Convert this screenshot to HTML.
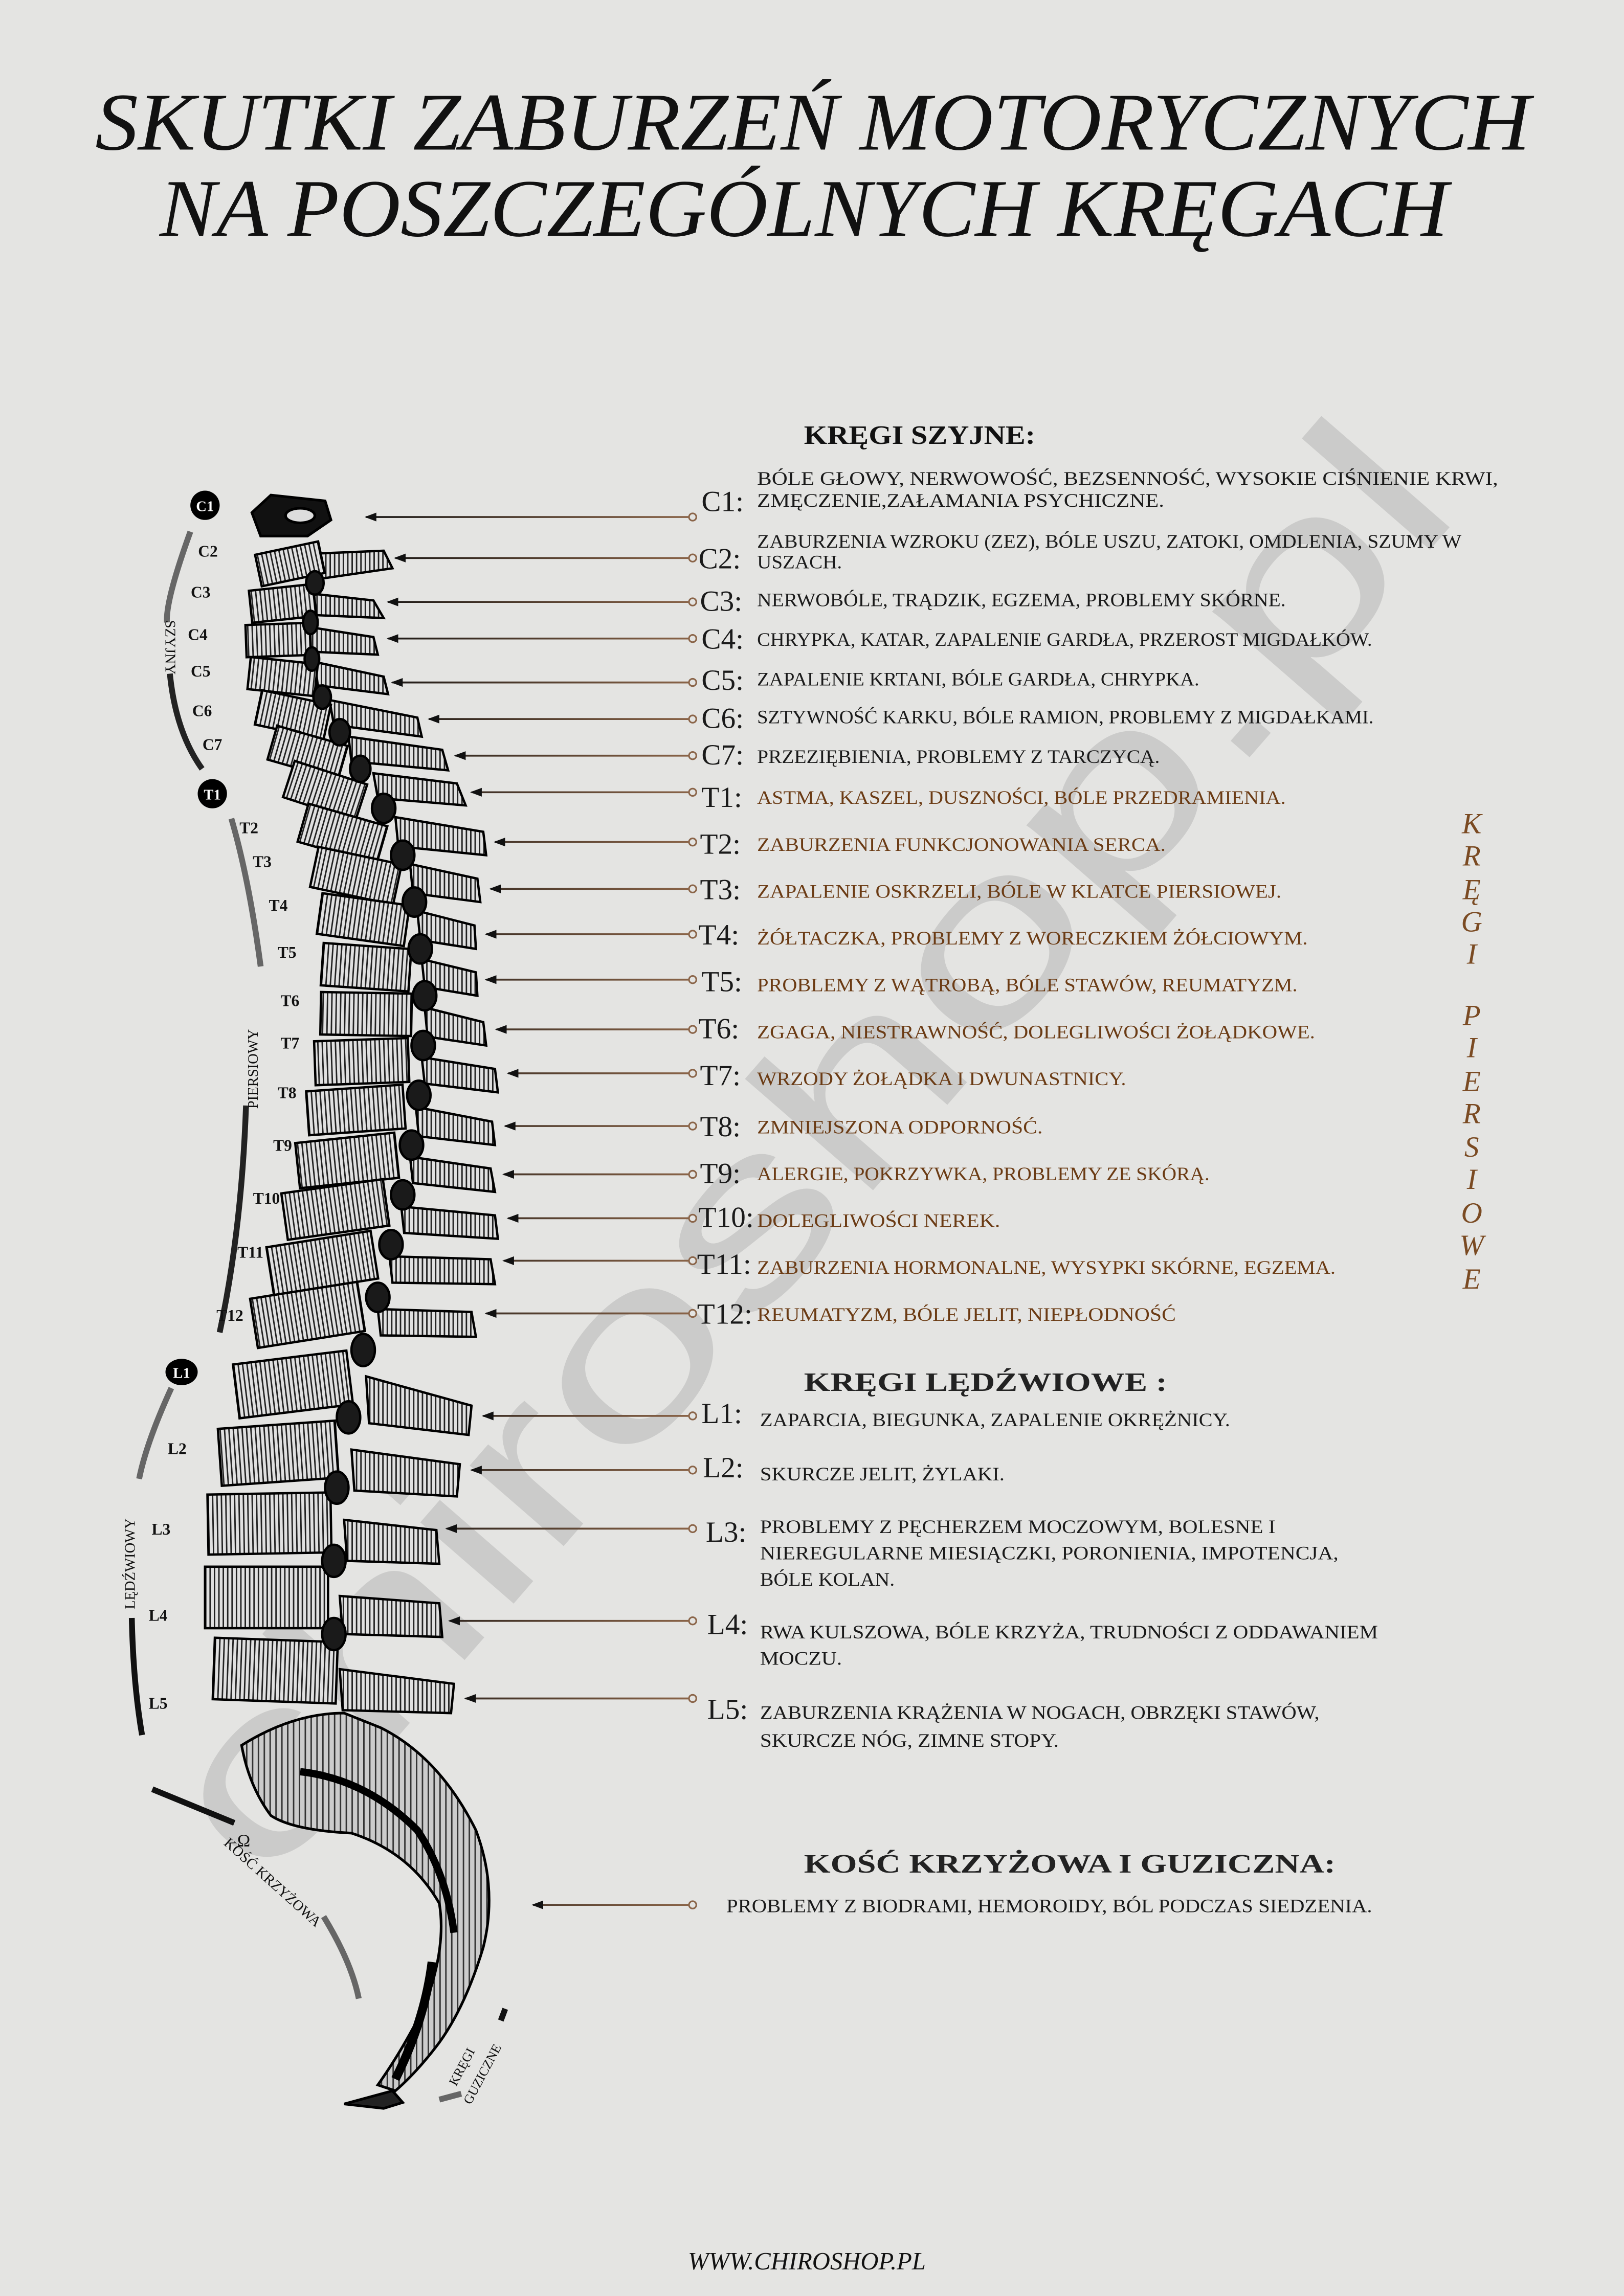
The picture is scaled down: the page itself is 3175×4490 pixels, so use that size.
<!DOCTYPE html>
<html><head><meta charset="utf-8"><style>
html,body{margin:0;padding:0;background:#e4e4e2}
svg{display:block}
.t{font-family:"Liberation Serif",serif;font-size:13px;fill:#1a1a1a}
.b{fill:#6b3b14}
.lb{font-family:"Liberation Serif",serif;font-size:20px;fill:#1a1a1a}
.sm{font-family:"Liberation Serif",serif;font-size:11px;font-weight:bold;fill:#111}
</style></head><body>
<svg width="3175" height="4490" viewBox="0 0 1109 1568" xmlns="http://www.w3.org/2000/svg">
<defs>
<pattern id="h" width="3" height="3" patternUnits="userSpaceOnUse"><rect width="3" height="3" fill="#e0e0e0"/><rect width="1" height="3" fill="#222"/></pattern>
<pattern id="h2" width="4" height="4" patternUnits="userSpaceOnUse"><rect width="4" height="4" fill="#ccc"/><rect width="1" height="4" fill="#333"/></pattern>
<linearGradient id="g" gradientUnits="userSpaceOnUse" x1="240" y1="0" x2="472" y2="0"><stop offset="0" stop-color="#111"/><stop offset="1" stop-color="#8a6448"/></linearGradient>
<marker id="a" markerWidth="8" markerHeight="6" refX="1" refY="3" orient="auto" markerUnits="userSpaceOnUse"><path d="M8,0 L0,3 L8,6 Z" fill="#111"/></marker>
</defs>
<rect width="1109" height="1568" fill="#e4e4e2"/>
<!-- watermark -->
<text x="590" y="820" transform="rotate(-49 590 820)" text-anchor="middle" font-family="Liberation Sans,sans-serif" font-size="160" fill="#000" opacity="0.1" textLength="1250" lengthAdjust="spacingAndGlyphs">chiroshop.pl</text>
<!-- title -->
<text x="555" y="102" text-anchor="middle" font-family="Liberation Serif,serif" font-style="italic" font-size="56" fill="#111" textLength="980" lengthAdjust="spacingAndGlyphs">SKUTKI ZABURZEŃ MOTORYCZNYCH</text>
<text x="549" y="161" text-anchor="middle" font-family="Liberation Serif,serif" font-style="italic" font-size="56" fill="#111" textLength="880" lengthAdjust="spacingAndGlyphs">NA POSZCZEGÓLNYCH KRĘGACH</text>
<!-- headers -->
<text x="549" y="303" font-family="Liberation Serif,serif" font-weight="bold" font-size="18" fill="#111" textLength="158" lengthAdjust="spacingAndGlyphs">KRĘGI  SZYJNE:</text>
<text x="549" y="950" font-family="Liberation Serif,serif" font-weight="bold" font-size="18" fill="#222" textLength="248" lengthAdjust="spacingAndGlyphs">KRĘGI LĘDŹWIOWE :</text>
<text x="549" y="1279" font-family="Liberation Serif,serif" font-weight="bold" font-size="18" fill="#222" textLength="363" lengthAdjust="spacingAndGlyphs">KOŚĆ KRZYŻOWA I GUZICZNA:</text>
<!-- connectors -->
<g stroke="url(#g)" stroke-width="1.3" fill="none">
<path d="M250,353 H470" marker-start="url(#a)"/>
<path d="M270,381 H470" marker-start="url(#a)"/>
<path d="M265,411 H470" marker-start="url(#a)"/>
<path d="M265,436 H470" marker-start="url(#a)"/>
<path d="M268,466 H470" marker-start="url(#a)"/>
<path d="M293,491 H470" marker-start="url(#a)"/>
<path d="M311,516 H470" marker-start="url(#a)"/>
<path d="M322,541 H470" marker-start="url(#a)"/>
<path d="M338,575 H470" marker-start="url(#a)"/>
<path d="M335,607 H470" marker-start="url(#a)"/>
<path d="M332,638 H470" marker-start="url(#a)"/>
<path d="M332,669 H470" marker-start="url(#a)"/>
<path d="M339,703 H470" marker-start="url(#a)"/>
<path d="M347,733 H470" marker-start="url(#a)"/>
<path d="M345,769 H470" marker-start="url(#a)"/>
<path d="M344,802 H470" marker-start="url(#a)"/>
<path d="M347,832 H470" marker-start="url(#a)"/>
<path d="M344,861 H470" marker-start="url(#a)"/>
<path d="M332,897 H470" marker-start="url(#a)"/>
<path d="M330,967 H470" marker-start="url(#a)"/>
<path d="M322,1004 H470" marker-start="url(#a)"/>
<path d="M305,1044 H470" marker-start="url(#a)"/>
<path d="M307,1107 H470" marker-start="url(#a)"/>
<path d="M318,1160 H470" marker-start="url(#a)"/>
<path d="M364,1301 H470" marker-start="url(#a)"/>
</g>
<g fill="#e4e4e2" stroke="#8a6448" stroke-width="1.1">
<circle cx="473" cy="353" r="2.5"/><circle cx="473" cy="381" r="2.5"/><circle cx="473" cy="411" r="2.5"/><circle cx="473" cy="436" r="2.5"/><circle cx="473" cy="466" r="2.5"/><circle cx="473" cy="491" r="2.5"/><circle cx="473" cy="516" r="2.5"/><circle cx="473" cy="541" r="2.5"/><circle cx="473" cy="575" r="2.5"/><circle cx="473" cy="607" r="2.5"/><circle cx="473" cy="638" r="2.5"/><circle cx="473" cy="669" r="2.5"/><circle cx="473" cy="703" r="2.5"/><circle cx="473" cy="733" r="2.5"/><circle cx="473" cy="769" r="2.5"/><circle cx="473" cy="802" r="2.5"/><circle cx="473" cy="832" r="2.5"/><circle cx="473" cy="861" r="2.5"/><circle cx="473" cy="897" r="2.5"/><circle cx="473" cy="967" r="2.5"/><circle cx="473" cy="1004" r="2.5"/><circle cx="473" cy="1044" r="2.5"/><circle cx="473" cy="1107" r="2.5"/><circle cx="473" cy="1160" r="2.5"/><circle cx="473" cy="1301" r="2.5"/>
</g>
<!-- labels -->
<g class="lb">
<text x="479" y="349">C1:</text><text x="477" y="388">C2:</text><text x="478" y="417">C3:</text><text x="479" y="443">C4:</text><text x="479" y="471">C5:</text><text x="479" y="497">C6:</text><text x="479" y="522">C7:</text>
</g>
<g class="lb b">
<text x="479" y="551">T1:</text><text x="478" y="583">T2:</text><text x="478" y="614">T3:</text><text x="477" y="645">T4:</text><text x="479" y="677">T5:</text><text x="477" y="709">T6:</text><text x="478" y="741">T7:</text><text x="478" y="776">T8:</text><text x="478" y="808">T9:</text><text x="477" y="838">T10:</text><text x="476" y="870">T11:</text><text x="476" y="904">T12:</text>
</g>
<g class="lb"><text x="479" y="972">L1:</text><text x="480" y="1009">L2:</text><text x="482" y="1053">L3:</text><text x="483" y="1116">L4:</text><text x="483" y="1174">L5:</text></g>
<!-- descriptions -->
<g class="t">
<text x="517" y="331" textLength="506" lengthAdjust="spacingAndGlyphs">BÓLE GŁOWY, NERWOWOŚĆ, BEZSENNOŚĆ, WYSOKIE CIŚNIENIE KRWI,</text>
<text x="517" y="346" textLength="278" lengthAdjust="spacingAndGlyphs">ZMĘCZENIE,ZAŁAMANIA PSYCHICZNE.</text>
<text x="517" y="374" textLength="481" lengthAdjust="spacingAndGlyphs">ZABURZENIA WZROKU (ZEZ), BÓLE USZU, ZATOKI, OMDLENIA, SZUMY W</text>
<text x="517" y="388" textLength="58" lengthAdjust="spacingAndGlyphs">USZACH.</text>
<text x="517" y="414" textLength="361" lengthAdjust="spacingAndGlyphs">NERWOBÓLE, TRĄDZIK, EGZEMA, PROBLEMY SKÓRNE.</text>
<text x="517" y="441" textLength="420" lengthAdjust="spacingAndGlyphs">CHRYPKA, KATAR, ZAPALENIE GARDŁA, PRZEROST MIGDAŁKÓW.</text>
<text x="517" y="468" textLength="302" lengthAdjust="spacingAndGlyphs">ZAPALENIE KRTANI, BÓLE GARDŁA, CHRYPKA.</text>
<text x="517" y="494" textLength="421" lengthAdjust="spacingAndGlyphs">SZTYWNOŚĆ KARKU, BÓLE RAMION, PROBLEMY Z MIGDAŁKAMI.</text>
<text x="517" y="521" textLength="275" lengthAdjust="spacingAndGlyphs">PRZEZIĘBIENIA, PROBLEMY Z TARCZYCĄ.</text>
</g>
<g class="t b">
<text x="517" y="549" textLength="361" lengthAdjust="spacingAndGlyphs">ASTMA, KASZEL, DUSZNOŚCI, BÓLE PRZEDRAMIENIA.</text>
<text x="517" y="581" textLength="279" lengthAdjust="spacingAndGlyphs">ZABURZENIA FUNKCJONOWANIA SERCA.</text>
<text x="517" y="613" textLength="358" lengthAdjust="spacingAndGlyphs">ZAPALENIE OSKRZELI, BÓLE W KLATCE PIERSIOWEJ.</text>
<text x="517" y="645" textLength="376" lengthAdjust="spacingAndGlyphs">ŻÓŁTACZKA, PROBLEMY Z WORECZKIEM ŻÓŁCIOWYM.</text>
<text x="517" y="677" textLength="369" lengthAdjust="spacingAndGlyphs">PROBLEMY Z WĄTROBĄ, BÓLE STAWÓW, REUMATYZM.</text>
<text x="517" y="709" textLength="381" lengthAdjust="spacingAndGlyphs">ZGAGA, NIESTRAWNOŚĆ, DOLEGLIWOŚCI ŻOŁĄDKOWE.</text>
<text x="517" y="741" textLength="252" lengthAdjust="spacingAndGlyphs">WRZODY ŻOŁĄDKA I DWUNASTNICY.</text>
<text x="517" y="774" textLength="195" lengthAdjust="spacingAndGlyphs">ZMNIEJSZONA ODPORNOŚĆ.</text>
<text x="517" y="806" textLength="309" lengthAdjust="spacingAndGlyphs">ALERGIE, POKRZYWKA, PROBLEMY ZE SKÓRĄ.</text>
<text x="517" y="838" textLength="166" lengthAdjust="spacingAndGlyphs">DOLEGLIWOŚCI NEREK.</text>
<text x="517" y="870" textLength="395" lengthAdjust="spacingAndGlyphs">ZABURZENIA HORMONALNE, WYSYPKI SKÓRNE, EGZEMA.</text>
<text x="517" y="902" textLength="286" lengthAdjust="spacingAndGlyphs">REUMATYZM, BÓLE JELIT, NIEPŁODNOŚĆ</text>
</g>
<g class="t">
<text x="519" y="974" textLength="321" lengthAdjust="spacingAndGlyphs">ZAPARCIA, BIEGUNKA, ZAPALENIE OKRĘŻNICY.</text>
<text x="519" y="1011" textLength="167" lengthAdjust="spacingAndGlyphs">SKURCZE JELIT, ŻYLAKI.</text>
<text x="519" y="1047" textLength="352" lengthAdjust="spacingAndGlyphs">PROBLEMY Z PĘCHERZEM MOCZOWYM, BOLESNE I</text>
<text x="519" y="1065" textLength="395" lengthAdjust="spacingAndGlyphs">NIEREGULARNE MIESIĄCZKI, PORONIENIA, IMPOTENCJA,</text>
<text x="519" y="1083" textLength="92" lengthAdjust="spacingAndGlyphs">BÓLE KOLAN.</text>
<text x="519" y="1119" textLength="422" lengthAdjust="spacingAndGlyphs">RWA KULSZOWA, BÓLE KRZYŻA, TRUDNOŚCI Z ODDAWANIEM</text>
<text x="519" y="1137" textLength="56" lengthAdjust="spacingAndGlyphs">MOCZU.</text>
<text x="519" y="1174" textLength="382" lengthAdjust="spacingAndGlyphs">ZABURZENIA KRĄŻENIA W NOGACH, OBRZĘKI STAWÓW,</text>
<text x="519" y="1193" textLength="204" lengthAdjust="spacingAndGlyphs">SKURCZE NÓG, ZIMNE STOPY.</text>
<text x="496" y="1306" textLength="441" lengthAdjust="spacingAndGlyphs">PROBLEMY Z BIODRAMI, HEMOROIDY, BÓL PODCZAS SIEDZENIA.</text>
</g>
<!-- vertical brown text -->
<g font-family="Liberation Serif,serif" font-style="italic" font-size="20" fill="#7a4a22" text-anchor="middle">
<text x="1005" y="569">K</text><text x="1005" y="591">R</text><text x="1005" y="614">Ę</text><text x="1005" y="636">G</text><text x="1005" y="658">I</text>
<text x="1005" y="700">P</text><text x="1005" y="722">I</text><text x="1005" y="745">E</text><text x="1005" y="767">R</text><text x="1005" y="790">S</text><text x="1005" y="812">I</text><text x="1005" y="835">O</text><text x="1005" y="857">W</text><text x="1005" y="880">E</text>
</g>
<!-- left arcs and labels -->
<g fill="none" stroke-width="4">
<path d="M130,363 Q113,410 114,425" stroke="#666"/>
<path d="M116,460 Q120,500 138,525" stroke="#222"/>
<path d="M158,559 Q170,600 178,660" stroke="#666"/>
<path d="M168,755 Q165,840 150,910" stroke="#222"/>
<path d="M117,948 Q100,985 95,1010" stroke="#666"/>
<path d="M90,1105 Q91,1150 97,1185" stroke="#111"/>
<path d="M104,1222 L160,1245" stroke="#111"/>
<path d="M221,1309 Q240,1340 245,1365" stroke="#666"/>
<path d="M345,1372 L342,1380" stroke="#111"/>
<path d="M315,1430 L300,1434" stroke="#666"/>
</g>
<circle cx="140" cy="345" r="10" fill="#000"/><text x="140" y="349" text-anchor="middle" font-family="Liberation Serif,serif" font-weight="bold" font-size="10" fill="#fff">C1</text>
<circle cx="145" cy="542" r="10" fill="#000"/><text x="145" y="546" text-anchor="middle" font-family="Liberation Serif,serif" font-weight="bold" font-size="10" fill="#fff">T1</text>
<ellipse cx="124" cy="937" rx="11" ry="9" fill="#000"/><text x="124" y="941" text-anchor="middle" font-family="Liberation Serif,serif" font-weight="bold" font-size="10" fill="#fff">L1</text>
<g class="sm" text-anchor="middle">
<text x="142" y="380">C2</text><text x="137" y="408">C3</text><text x="135" y="437">C4</text><text x="137" y="462">C5</text><text x="138" y="489">C6</text><text x="145" y="512">C7</text>
<text x="170" y="569">T2</text><text x="179" y="592">T3</text><text x="190" y="622">T4</text><text x="196" y="654">T5</text><text x="198" y="687">T6</text><text x="198" y="716">T7</text><text x="196" y="750">T8</text><text x="193" y="786">T9</text><text x="182" y="822">T10</text><text x="171" y="859">T11</text><text x="157" y="902">T12</text>
<text x="121" y="993">L2</text><text x="110" y="1048">L3</text><text x="108" y="1107">L4</text><text x="108" y="1167">L5</text>
</g>
<text transform="translate(113,442) rotate(90)" text-anchor="middle" font-family="Liberation Serif,serif" font-size="10" fill="#111">SZYJNY</text>
<text transform="translate(176,730) rotate(-90)" text-anchor="middle" font-family="Liberation Serif,serif" font-size="10" fill="#111">PIERSIOWY</text>
<text transform="translate(92,1068) rotate(-90)" text-anchor="middle" font-family="Liberation Serif,serif" font-size="10" fill="#111">LĘDŹWIOWY</text>
<text transform="translate(184,1288) rotate(42)" text-anchor="middle" font-family="Liberation Serif,serif" font-size="10" fill="#111">KOŚĆ KRZYŻOWA</text>
<text transform="translate(318,1413) rotate(-62)" text-anchor="middle" font-family="Liberation Serif,serif" font-size="9" fill="#111">KRĘGI</text>
<text transform="translate(332,1418) rotate(-62)" text-anchor="middle" font-family="Liberation Serif,serif" font-size="9" fill="#111">GUZICZNE</text>
<text x="162" y="1261" font-family="Liberation Serif,serif" font-size="12" fill="#111">Ω</text>
<!-- spine -->
<g stroke="#000" stroke-width="1.8">
<path d="M165,1192 Q200,1170 235,1170 L260,1180 Q300,1200 325,1250 Q340,1290 330,1330 Q318,1370 300,1395 Q285,1415 270,1428 L258,1424 Q275,1400 290,1370 Q305,1330 300,1300 Q280,1265 240,1252 Q200,1250 185,1240 Q170,1220 165,1192 Z" fill="url(#h2)"/>
<path d="M205,1210 Q250,1215 285,1250 Q305,1280 310,1320" fill="none" stroke-width="5"/>
<path d="M295,1340 Q290,1380 270,1420" fill="none" stroke-width="6"/>
<path d="M235,1437 L268,1428 L275,1436 L262,1440 Z" fill="#222"/>
<path d="M172,350 L185,338 L222,342 L226,355 L210,366 L178,366 Z" fill="#111"/>
<ellipse cx="205" cy="352" rx="10" ry="5" fill="#ddd"/>
</g>
<g stroke="#000" stroke-width="1.6">
<g fill="url(#h)">
<path d="M215,378 L262,376 L268,388 L220,395 Z"/>
<path d="M210,405 L255,410 L262,422 L215,420 Z"/>
<path d="M210,428 L255,435 L258,447 L212,445 Z"/>
<path d="M215,452 L262,462 L265,474 L217,468 Z"/>
<path d="M225,478 L285,490 L288,503 L228,495 Z"/>
<path d="M238,503 L302,512 L306,526 L240,520 Z"/>
<path d="M255,528 L312,535 L318,550 L258,545 Z"/>
<path d="M270,558 L330,568 L332,584 L272,578 Z"/>
<path d="M280,590 L326,600 L328,616 L282,610 Z"/>
<path d="M285,622 L324,632 L325,648 L287,642 Z"/>
<path d="M288,655 L325,664 L326,680 L290,674 Z"/>
<path d="M290,688 L330,698 L332,714 L292,708 Z"/>
<path d="M288,722 L338,730 L340,746 L290,740 Z"/>
<path d="M284,756 L336,766 L338,782 L286,776 Z"/>
<path d="M280,790 L335,798 L338,814 L282,808 Z"/>
<path d="M274,824 L338,830 L340,846 L276,842 Z"/>
<path d="M266,858 L335,860 L338,877 L268,876 Z"/>
<path d="M258,894 L322,896 L325,913 L260,912 Z"/>
<path d="M250,940 L322,960 L320,980 L252,972 Z"/>
<path d="M240,990 L314,1000 L312,1022 L242,1018 Z"/>
<path d="M235,1038 L298,1045 L300,1068 L237,1066 Z"/>
<path d="M232,1090 L300,1095 L302,1118 L234,1116 Z"/>
<path d="M232,1140 L310,1150 L308,1170 L234,1168 Z"/>
</g>
<g fill="url(#h)">
<rect x="-22" y="-11" width="44" height="22" transform="translate(198,385) rotate(-12)"/>
<rect x="-22" y="-11" width="44" height="22" transform="translate(193,412) rotate(-6)"/>
<rect x="-22" y="-11" width="44" height="22" transform="translate(190,437) rotate(-2)"/>
<rect x="-23" y="-11" width="46" height="22" transform="translate(193,462) rotate(6)"/>
<rect x="-24" y="-12" width="48" height="24" transform="translate(200,488) rotate(12)"/>
<rect x="-25" y="-12" width="50" height="24" transform="translate(210,514) rotate(16)"/>
<rect x="-26" y="-13" width="52" height="26" transform="translate(222,540) rotate(18)"/>
<rect x="-28" y="-13" width="56" height="27" transform="translate(234,569) rotate(16)"/>
<rect x="-29" y="-14" width="58" height="28" transform="translate(243,598) rotate(12)"/>
<rect x="-30" y="-14" width="60" height="28" transform="translate(248,628) rotate(8)"/>
<rect x="-30" y="-14" width="60" height="29" transform="translate(250,660) rotate(4)"/>
<rect x="-31" y="-14" width="62" height="29" transform="translate(250,692) rotate(1)"/>
<rect x="-32" y="-15" width="64" height="30" transform="translate(247,725) rotate(-2)"/>
<rect x="-33" y="-15" width="66" height="30" transform="translate(243,758) rotate(-4)"/>
<rect x="-34" y="-15" width="68" height="31" transform="translate(237,792) rotate(-6)"/>
<rect x="-35" y="-16" width="70" height="32" transform="translate(229,826) rotate(-8)"/>
<rect x="-36" y="-16" width="72" height="33" transform="translate(220,862) rotate(-9)"/>
<rect x="-37" y="-17" width="74" height="34" transform="translate(210,898) rotate(-9)"/>
<rect x="-39" y="-18" width="78" height="37" transform="translate(200,945) rotate(-7)"/>
<rect x="-40" y="-19" width="80" height="39" transform="translate(190,992) rotate(-4)"/>
<rect x="-42" y="-20" width="84" height="41" transform="translate(184,1040) rotate(-1)"/>
<rect x="-42" y="-20" width="84" height="42" transform="translate(182,1090) rotate(0)"/>
<rect x="-42" y="-20" width="84" height="42" transform="translate(188,1140) rotate(2)"/>
</g>
<g fill="#1a1a1a">
<ellipse cx="215" cy="398" rx="6" ry="8"/><ellipse cx="212" cy="425" rx="5" ry="8"/><ellipse cx="213" cy="450" rx="5" ry="8"/><ellipse cx="220" cy="476" rx="6" ry="8"/><ellipse cx="232" cy="500" rx="7" ry="9"/><ellipse cx="246" cy="525" rx="7" ry="9"/><ellipse cx="262" cy="552" rx="8" ry="10"/><ellipse cx="275" cy="584" rx="8" ry="10"/><ellipse cx="283" cy="616" rx="8" ry="10"/><ellipse cx="287" cy="648" rx="8" ry="10"/><ellipse cx="290" cy="680" rx="8" ry="10"/><ellipse cx="289" cy="714" rx="8" ry="10"/><ellipse cx="286" cy="748" rx="8" ry="10"/><ellipse cx="281" cy="782" rx="8" ry="10"/><ellipse cx="275" cy="816" rx="8" ry="10"/><ellipse cx="267" cy="850" rx="8" ry="10"/><ellipse cx="258" cy="886" rx="8" ry="10"/><ellipse cx="248" cy="922" rx="8" ry="11"/><ellipse cx="238" cy="968" rx="8" ry="11"/><ellipse cx="230" cy="1016" rx="8" ry="11"/><ellipse cx="228" cy="1066" rx="8" ry="11"/><ellipse cx="228" cy="1116" rx="8" ry="11"/>
</g>
</g>
<text x="551" y="1550" text-anchor="middle" font-family="Liberation Serif,serif" font-style="italic" font-size="17" fill="#111">WWW.CHIROSHOP.PL</text>
</svg>
</body></html>
